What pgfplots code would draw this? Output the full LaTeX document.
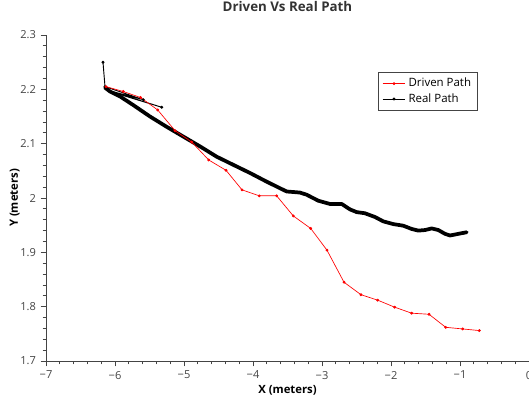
\documentclass[border=0pt]{standalone}
\usepackage{pgfplots}
\pgfplotsset{compat=1.18}
\usepackage{fontspec}
\setmainfont{Open Sans}
\definecolor{txt}{HTML}{333333}
\definecolor{axc}{HTML}{444444}

\begin{document}
\begin{tikzpicture}
  \begin{axis}[
      name=ax,
      scale only axis,
      width=362.25pt,
      height=244.5pt,
      xmin=-7, xmax=0,
      ymin=1.7, ymax=2.3,
      axis lines=left,
      axis line style={-, axc, line width=0.6pt},
      tick align=outside,
      tick style={axc, line width=0.6pt},
      major tick length=4pt,
      minor tick length=2.5pt,
      xtick={-7,-6,-5,-4,-3,-2,-1,0},
      xticklabels={−7,−6,−5,−4,−3,−2,−1,0},
      ytick={1.7,1.8,1.9,2,2.1,2.2,2.3},
      yticklabels={1.7,1.8,1.9,2,2.1,2.2,2.3},
      minor x tick num=4,
      minor y tick num=4,
      ticklabel style={font=\fontsize{8.3}{9}\selectfont, text=axc},
      title={Driven Vs Real Path},
      title style={at={(axis description cs:0.5,1)}, anchor=center, yshift=15pt,
                   font=\fontsize{10}{11}\selectfont\bfseries, text=txt},
      xlabel={X (meters)},
      xlabel style={at={(axis description cs:0.5,0)}, anchor=center, yshift=-22pt,
                    font=\fontsize{8.5}{10}\selectfont\bfseries, text=black},
      ylabel={Y (meters)},
      ylabel style={at={(axis description cs:0,0.5)}, anchor=center, yshift=23.5pt,
                    font=\fontsize{8.5}{10}\selectfont\bfseries, text=black},
      legend style={at={(axis cs:-2.19,2.232)}, anchor=north west,
                    draw=axc, line width=0.5pt, font=\fontsize{8.6}{10}\selectfont,
                    inner xsep=3pt, inner ysep=2.5pt, row sep=-0.5pt,
                    cells={anchor=west}},
      legend cell align=left,
      clip=false,
    ]

    % real path, dense part (drawn thick)
    \addplot[black, line width=2.8pt, line join=round, line cap=round, forget plot] coordinates {
      (-6.145,2.203) (-6.072,2.196) (-5.928,2.187) (-5.735,2.171)
      (-5.493,2.150) (-5.251,2.131) (-5.010,2.113) (-4.768,2.095)
      (-4.526,2.076) (-4.285,2.061) (-4.043,2.046) (-3.801,2.030)
      (-3.561,2.015) (-3.512,2.012) (-3.319,2.010) (-3.222,2.006)
      (-3.054,1.995) (-2.884,1.989) (-2.714,1.989) (-2.594,1.979)
      (-2.497,1.974) (-2.380,1.972) (-2.232,1.965) (-2.112,1.957)
      (-1.967,1.952) (-1.822,1.949) (-1.700,1.943) (-1.604,1.940)
      (-1.507,1.941) (-1.410,1.944) (-1.314,1.941) (-1.217,1.934)
      (-1.145,1.931) (-1.024,1.934) (-0.903,1.937)
    };
    % real path, start (thin)
    \addplot[black, line width=0.7pt, mark=*, mark size=0.7pt, forget plot] coordinates {
      (-6.174,2.250) (-6.145,2.205) (-5.590,2.181) (-6.100,2.198)
      (-5.323,2.167) (-6.072,2.196)
    };

    \addplot[red, line width=0.5pt, mark=*, mark size=0.8pt] coordinates {
      (-6.130,2.205) (-5.880,2.196) (-5.630,2.185) (-5.381,2.162)
      (-5.130,2.124) (-4.888,2.103) (-4.642,2.070) (-4.391,2.051)
      (-4.159,2.015) (-3.909,2.004) (-3.657,2.004) (-3.416,1.967)
      (-3.164,1.944) (-2.928,1.904) (-2.681,1.845) (-2.435,1.822)
      (-2.193,1.812) (-1.946,1.799) (-1.700,1.788) (-1.449,1.786)
      (-1.207,1.762) (-0.961,1.759) (-0.720,1.756)
    };
    \addlegendentry{Driven Path}
    \addlegendimage{black, line width=0.7pt, mark=*, mark size=0.7pt}
    \addlegendentry{Real Path}
  \end{axis}
  \pgfresetboundingbox
  \path (ax.south west) ++(-34.5pt,-33pt) rectangle (ax.north east);
  \path (ax.north east) ++(0,26.25pt);
\end{tikzpicture}
\end{document}
